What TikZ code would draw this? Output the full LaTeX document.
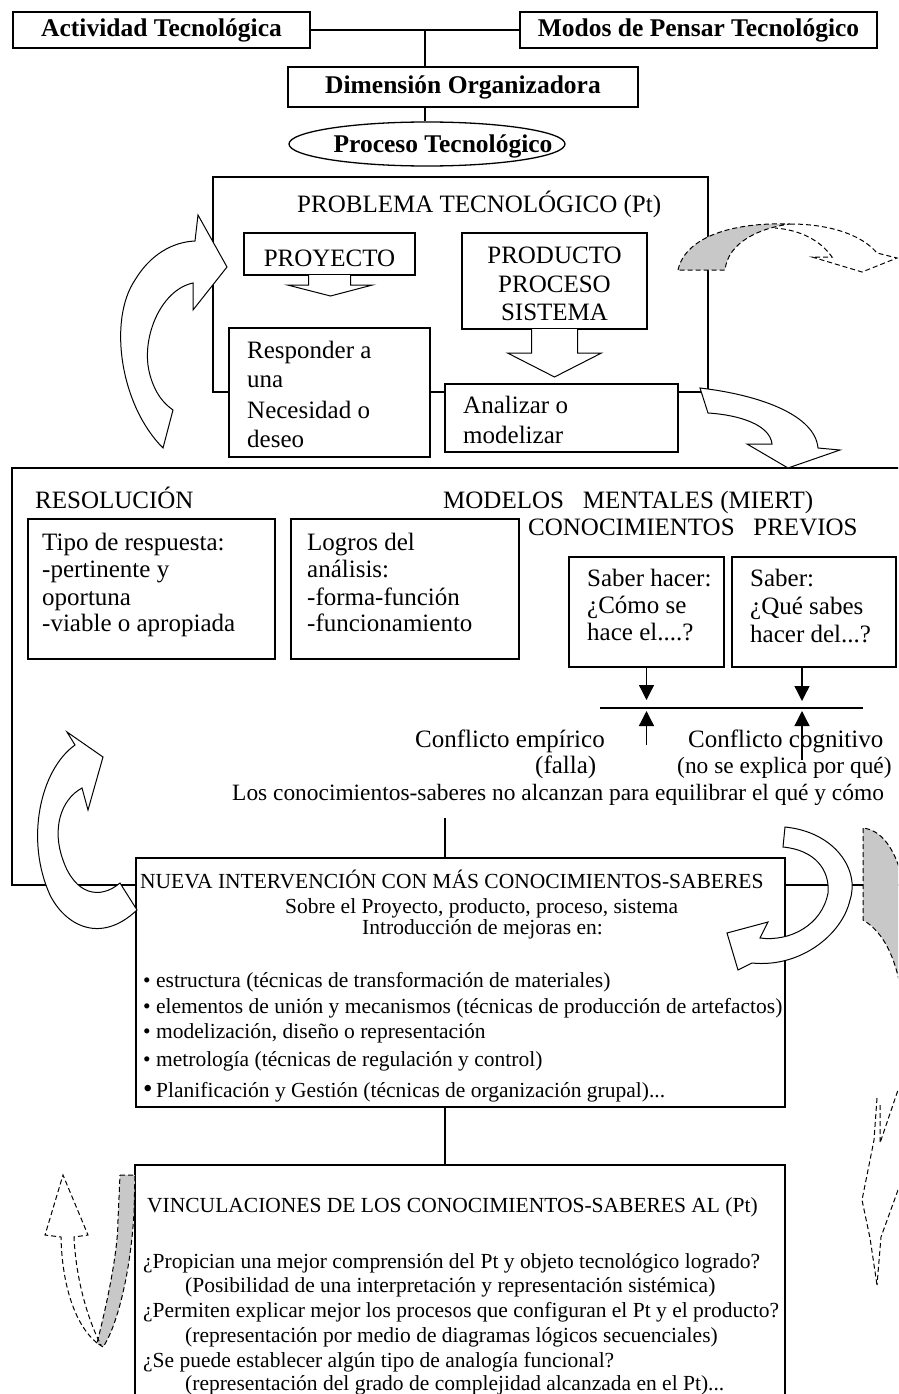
\documentclass[tikz,border=0pt]{standalone}
\usepackage{fontspec}
\setmainfont{Liberation Serif}
\usetikzlibrary{shapes.geometric,arrows.meta}
\definecolor{shade}{RGB}{200,200,200}
\begin{document}
\begin{tikzpicture}[x=1pt,y=-1pt,
  ln/.style={line width=1.3pt},
  box/.style={draw,line width=1.3pt,fill=white,inner sep=0pt,outer sep=0pt},
  bt/.style={font=\fontsize{25.5}{30}\selectfont\bfseries},
  ta/.style={font=\fontsize{25}{29}\selectfont,inner sep=0pt,anchor=base west},
  tc/.style={font=\fontsize{23.4}{27}\selectfont,inner sep=0pt,anchor=base west},
  tb/.style={font=\fontsize{21.5}{25}\selectfont,inner sep=0pt,anchor=base west},
  blk/.style={draw,line width=1pt,fill=white,line join=miter},
  dsh/.style={draw,line width=1pt,dash pattern=on 5pt off 3pt},
  arr/.style={line width=1.3pt,-{Triangle[width=15pt,length=15pt]}},
]
\useasboundingbox (0,0) rectangle (898,1394);
\clip (0,0) rectangle (898,1394);
\fill[white] (0,0) rectangle (898,1394);

% ---------- top ----------
\node[box,bt,minimum width=297pt,minimum height=36pt] (act) at (161.5,30) {Actividad Tecnológica};
\node[box,bt,minimum width=357pt,minimum height=36pt] (modos) at (698.5,30) {Modos de Pensar Tecnológico};
\node[box,bt,minimum width=350pt,minimum height=40pt] (dim) at (463,87) {Dimensión Organizadora};
\node[draw,ln,ellipse,minimum width=276pt,minimum height=44pt,inner sep=0pt] (proc) at (427,144) {};
\node[bt,anchor=base,inner sep=0pt] (proct) at (443,152) {Proceso Tecnológico};
\coordinate (j1) at (425,30);
\draw[ln] (act.east) -- (modos.west);
\draw[ln] (j1) -- (j1 |- dim.north);
\draw[ln] (j1 |- dim.south) -- (j1 |- proc.north);

% ---------- problema ----------
\node[draw,ln,minimum width=495pt,minimum height=215pt,inner sep=0pt] (prob) at (460.5,284.5) {};
\node[ta] (probt) at (297,212) {PROBLEMA TECNOLÓGICO (Pt)};
\node[box,minimum width=171pt,minimum height=42pt] (proy) at (329.5,254) {};
\node[ta,anchor=base] (proyt) at (329.5,266) {PROYECTO};
\node[box,minimum width=185pt,minimum height=96pt] (prod) at (554.5,281) {};
\node[ta,anchor=base] (prod1) at (554.5,263) {PRODUCTO};
\node[ta,anchor=base] (prod2) at (554.5,292) {PROCESO};
\node[ta,anchor=base] (prod3) at (554.5,320) {SISTEMA};
\draw[blk] ([xshift=-21pt]proy.south) -- ++(0,10) -- ++(-21,0) -- ++(43,11) -- ++(42,-11) -- ++(-22,0) -- ++(0,-10);
\draw[blk] ([xshift=-23pt]prod.south) -- ++(0,24) -- ++(-24,0) -- ++(47,24) -- ++(47,-24) -- ++(-24,0) -- ++(0,-24);
\node[box,minimum width=201pt,minimum height=129pt] (resp) at (329.5,392.5) {};
\node[ta] (resp1) at (247,358) {Responder a};
\node[ta] (resp2) at (247,387) {una};
\node[ta] (resp3) at (247,418) {Necesidad o};
\node[ta] (resp4) at (247,447) {deseo};
\node[box,minimum width=233pt,minimum height=68pt] (anal) at (561.5,418) {};
\node[ta] (anal1) at (463,413) {Analizar o};
\node[ta] (anal2) at (463,443) {modelizar};

% left curved arrow (top)
\draw[blk] (163,448) .. controls (120,405) and (108,320) .. (135,280) .. controls (150,255) and (172,242) .. (195,241)
  -- (198,215) -- (227,267) -- (193,310) -- (193,283)
  .. controls (160,290) and (140,340) .. (150,375) .. controls (155,393) and (163,403) .. (173,410) -- cycle;
% grey dashed arrow (top right)
\path[fill=shade,dsh] (678,270) .. controls (685,238) and (730,222) .. (790,224) .. controls (760,228) and (728,242) .. (725,270) -- cycle;
\draw[dsh] (790,224) .. controls (830,224) and (862,235) .. (877,253) -- (897,258) -- (862,272) -- (812,257) -- (832,257)
  .. controls (820,240) and (800,230) .. (775,228);

% ---------- middle frame ----------
\node[draw,ln,minimum width=908pt,minimum height=417pt,inner sep=0pt] (mid) at (466,676.5) {};
% right curved arrow (from Analizar)
\draw[blk] (700,388) .. controls (760,395) and (815,415) .. (818,448) -- (840,450) -- (788,468) -- (747,444) -- (772,444)
  .. controls (770,425) and (740,415) .. (708,413) -- cycle;

\node[ta] (resol) at (35,508) {RESOLUCIÓN};
\node[ta] (model) at (443,508) {MODELOS\ \ \ MENTALES (MIERT)};
\node[ta] (conoc) at (528,535) {CONOCIMIENTOS\ \ \ PREVIOS};

\node[box,minimum width=247pt,minimum height=140pt] (tipo) at (151.5,589) {};
\node[ta] (tipo1) at (42,550) {Tipo de respuesta:};
\node[ta] (tipo2) at (42,577) {-pertinente y};
\node[ta] (tipo3) at (42,605) {oportuna};
\node[ta] (tipo4) at (42,631) {-viable o apropiada};
\node[box,minimum width=228pt,minimum height=140pt] (logr) at (405,589) {};
\node[ta] (logr1) at (307,550) {Logros del};
\node[ta] (logr2) at (307,577) {análisis:};
\node[ta] (logr3) at (307,605) {-forma-función};
\node[ta] (logr4) at (307,631) {-funcionamiento};

\node[box,minimum width=155pt,minimum height=110pt] (sh) at (646.5,612) {};
\node[ta] (sh1) at (587,586) {Saber hacer:};
\node[ta] (sh2) at (587,613) {¿Cómo se};
\node[ta] (sh3) at (587,640) {hace el....?};
\node[box,minimum width=164pt,minimum height=110pt] (sb) at (814,612) {};
\node[ta] (sb1) at (750,586) {Saber:};
\node[ta] (sb2) at (750,614) {¿Qué sabes};
\node[ta] (sb3) at (750,642) {hacer del...?};

\coordinate (hlA) at (600,708);
\coordinate (hlB) at (863,708);
\draw[ln] (hlA) -- (hlB);
\node[ta] (ce1) at (415,747) {Conflicto empírico};
\node[ta] (ce2) at (535,773) {(falla)};
\node[ta] (cc1) at (688,747) {Conflicto cognitivo};
\node[tc] (cc2) at (677,773) {(no se explica por qué)};
\node[tc] (los) at (232,800) {Los conocimientos-saberes no alcanzan para equilibrar el qué y cómo};
\coordinate (d1) at (646.5,700);
\coordinate (u1s) at (646.5,745);
\coordinate (u1e) at (646.5,711);
\coordinate (d2) at (802,701);
\coordinate (u2s) at (802,760);
\coordinate (u2e) at (802,711);
\draw[arr] (sh.south) -- (d1);
\draw[arr] (u1s) -- (u1e);
\draw[arr] (sb.south -| d2) -- (d2);
\draw[arr] (u2s) -- (u2e);

% ---------- nueva intervención ----------
\coordinate (c1) at (445,818);
\node[box,minimum width=649pt,minimum height=249pt] (nueva) at (460.5,982.5) {};
\draw[ln] (c1) -- (c1 |- nueva.north);
\node[tb] (nv0) at (140,888) {NUEVA INTERVENCIÓN CON MÁS CONOCIMIENTOS-SABERES};
\node[tb] (nv1) at (285,913) {Sobre el Proyecto, producto, proceso, sistema};
\node[tb] (nv2) at (362,934) {Introducción de mejoras en:};
\node[tb] (nv3) at (143,987) {\textbullet\ estructura (técnicas de transformación de materiales)};
\node[tb] (nv4) at (143,1013) {\textbullet\ elementos de unión y mecanismos (técnicas de producción de artefactos)};
\node[tb] (nv5) at (143,1038) {\textbullet\ modelización, diseño o representación};
\node[tb] (nv6) at (143,1066) {\textbullet\ metrología (técnicas de regulación y control)};
\node[tb] (nv7) at (143,1097) {{\fontsize{27}{27}\selectfont\textbullet}\,Planificación y Gestión (técnicas de organización grupal)...};

% ---------- vinculaciones ----------
\node[box,minimum width=650pt,minimum height=255pt] (vinc) at (460,1292.5) {};
\draw[ln] (c1 |- nueva.south) -- (c1 |- vinc.north);
\node[tb] (vi0) at (147,1212) {VINCULACIONES DE LOS CONOCIMIENTOS-SABERES AL (Pt)};
\node[tb] (vi1) at (143,1268) {¿Propician una mejor comprensión del Pt y objeto tecnológico logrado?};
\node[tb] (vi2) at (185,1292) {(Posibilidad de una interpretación y representación sistémica)};
\node[tb] (vi3) at (143,1317) {¿Permiten explicar mejor los procesos que configuran el Pt y el producto?};
\node[tb] (vi4) at (185,1342) {(representación por medio de diagramas lógicos secuenciales)};
\node[tb] (vi5) at (143,1367) {¿Se puede establecer algún tipo de analogía funcional?};
\node[tb] (vi6) at (185,1390) {(representación del grado de complejidad alcanzada en el Pt)...};

% middle left curved arrow
\draw[blk] (75,745) .. controls (40,770) and (25,840) .. (50,895) .. controls (65,925) and (100,945) .. (137,910)
  -- (120,883) .. controls (100,900) and (75,895) .. (63,860) .. controls (52,830) and (60,800) .. (82,788)
  -- (88,810) -- (103,757) -- (67,732) -- cycle;
% middle right C arrow
\draw[blk] (785,827) .. controls (835,832) and (860,870) .. (850,900) .. controls (842,935) and (800,968) .. (752,963)
  -- (738,970) -- (727,933) -- (768,922) -- (760,938)
  .. controls (790,942) and (822,925) .. (828,893) .. controls (830,870) and (815,850) .. (783,847) -- cycle;
% right grey dashed shape
\path[fill=shade,dsh] (863,828) -- (863,920) .. controls (880,930) and (893,950) .. (900,985) -- (900,870)
  .. controls (892,845) and (880,830) .. (863,828) -- cycle;
% lower right dashed arrow
\draw[dsh] (877,1098) -- (874,1140) -- (862,1200) -- (870,1238) -- (877,1285);
\draw[dsh] (880,1105) -- (880,1143) -- (898,1090);
\draw[dsh] (898,1190) -- (881,1237) -- (877,1285);
% lower left dashed arrow
\path[fill=shade,dsh] (120,1175) -- (135,1175) -- (134,1213) .. controls (130,1280) and (115,1330) .. (103,1347)
  -- (97,1343) .. controls (108,1300) and (118,1250) .. (118,1220) -- cycle;
\draw[dsh] (97,1343) .. controls (75,1325) and (62,1285) .. (61,1237) -- (45,1235) -- (63,1175) -- (88,1235) -- (74,1237)
  .. controls (76,1280) and (88,1320) .. (101,1345);
\end{tikzpicture}
\end{document}
